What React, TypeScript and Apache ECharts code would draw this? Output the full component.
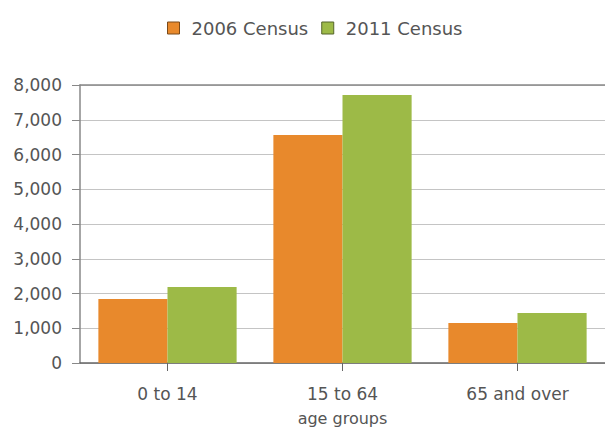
import React, { useEffect, useRef } from "react";
import * as echarts from "echarts";

const categories = ["0 to 14", "15 to 64", "65 and over"];
const census2006 = [1840, 6560, 1150];
const census2011 = [2190, 7710, 1440];
const seriesNames = ["2006 Census", "2011 Census"];
const yTicks = [0, 1000, 2000, 3000, 4000, 5000, 6000, 7000, 8000];

const ORANGE = "#E8892C";
const GREEN = "#9DBA47";
const FONT = "DejaVu Sans";

export default function App() {
  const ref = useRef<HTMLDivElement>(null);
  useEffect(() => {
    if (!ref.current) return;
    const chart = echarts.init(ref.current, undefined, { renderer: "svg" });
    chart.setOption({
      animation: false,
      backgroundColor: "#ffffff",
      textStyle: { fontFamily: FONT },
      legend: {
        left: 162,
        top: 14,
        itemWidth: 12,
        itemHeight: 12,
        itemGap: 13,
        icon: "rect",
        textStyle: { fontFamily: FONT, fontSize: 18, color: "#555", padding: [0, 0, 0, 7] },
        data: [
          { name: seriesNames[0], itemStyle: { color: ORANGE, borderColor: "#7a4a1a", borderWidth: 1 } },
          { name: seriesNames[1], itemStyle: { color: GREEN, borderColor: "#55652a", borderWidth: 1 } },
        ],
      },
      grid: { left: 80, right: 0, top: 85, bottom: 69, containLabel: false },
      xAxis: [
        {
          type: "category",
          data: categories,
          name: "age groups",
          nameLocation: "middle",
          nameGap: 47,
          nameTextStyle: { fontFamily: FONT, fontSize: 16, color: "#555" },
          axisLine: { show: true, lineStyle: { color: "#666", width: 1.5 } },
          axisTick: { show: true, alignWithLabel: true, length: 8, lineStyle: { color: "#666" } },
          axisLabel: { fontFamily: FONT, fontSize: 17, color: "#555", margin: 22 },
          splitLine: { show: false },
        },
        {
          type: "category",
          data: categories,
          position: "top",
          axisLine: { show: true, lineStyle: { color: "#888", width: 1.5 } },
          axisTick: { show: false },
          axisLabel: { show: false },
        },
      ],
      yAxis: {
        type: "value",
        min: yTicks[0],
        max: yTicks[yTicks.length - 1],
        interval: 1000,
        axisLine: { show: true, lineStyle: { color: "#888", width: 1.5 } },
        axisTick: { show: true, length: 8, lineStyle: { color: "#888" } },
        axisLabel: {
          fontFamily: FONT,
          fontSize: 17,
          color: "#555",
          margin: 18,
          formatter: (v: number) => v.toLocaleString("en-US"),
        },
        splitLine: { show: true, lineStyle: { color: "#c4c4c4", width: 1 } },
      },
      series: [
        {
          name: seriesNames[0],
          type: "bar",
          data: census2006,
          itemStyle: { color: ORANGE },
          barGap: "0%",
          barCategoryGap: "21%",
        },
        {
          name: seriesNames[1],
          type: "bar",
          data: census2011,
          itemStyle: { color: GREEN },
          barGap: "0%",
          barCategoryGap: "21%",
        },
      ],
    });
    return () => chart.dispose();
  }, []);
  return (
    <div
      ref={ref}
      style={{ position: "fixed", left: 0, top: 0, width: 605, height: 432 }}
    />
  );
}
